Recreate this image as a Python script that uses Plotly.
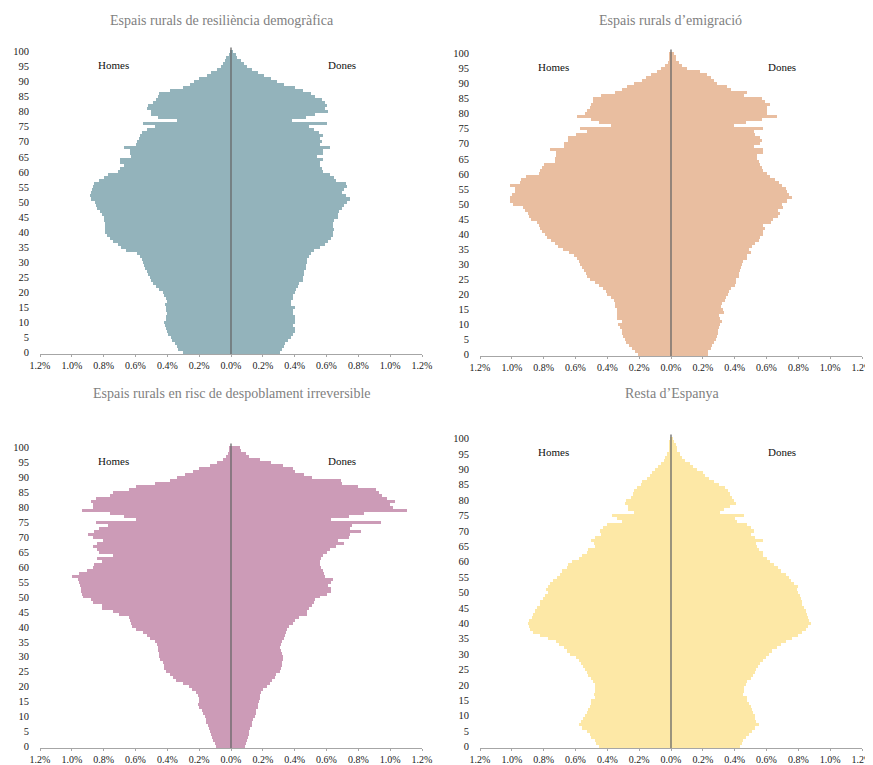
import plotly.graph_objects as go

ages = list(range(0, 101))
y_ticks = list(range(0, 101, 5))
x_tickvals = [-1.2, -1.0, -0.8, -0.6, -0.4, -0.2, 0.0, 0.2, 0.4, 0.6, 0.8, 1.0, 1.2]
x_ticktext = ["1.2%", "1.0%", "0.8%", "0.6%", "0.4%", "0.2%", "0.0%", "0.2%", "0.4%", "0.6%", "0.8%", "1.0%", "1.2%"]

titles = ["Espais rurals de resiliència demogràfica", "Espais rurals d’emigració",
          "Espais rurals en risc de despoblament irreversible", "Resta d’Espanya"]
colors = ["#93B3BB", "#E9BEA0", "#CC9BB7", "#FDE8A6"]

# % of population by single age (0..100)
homes_resiliencia = [0.30, 0.33, 0.34, 0.355, 0.37, 0.38, 0.395, 0.405, 0.41, 0.415, 0.42, 0.41, 0.41, 0.405, 0.41, 0.41, 0.415, 0.40, 0.41, 0.42,
                     0.43, 0.45, 0.47, 0.49, 0.50, 0.51, 0.52, 0.53, 0.54, 0.545, 0.55, 0.56, 0.57, 0.59, 0.66, 0.69, 0.71, 0.74, 0.76, 0.78,
                     0.79, 0.79, 0.79, 0.79, 0.795, 0.80, 0.81, 0.82, 0.845, 0.85, 0.855, 0.88, 0.885, 0.88, 0.875, 0.865, 0.86, 0.83, 0.80, 0.77,
                     0.71, 0.70, 0.67, 0.695, 0.70, 0.63, 0.635, 0.635, 0.67, 0.60, 0.59, 0.58, 0.57, 0.56, 0.53, 0.48, 0.55, 0.34, 0.46, 0.50,
                     0.50, 0.525, 0.52, 0.49, 0.47, 0.46, 0.45, 0.385, 0.30, 0.26, 0.23, 0.20, 0.15, 0.125, 0.09, 0.065, 0.05, 0.04, 0.03, 0.015,
                     0.005]
dones_resiliencia = [0.31, 0.32, 0.33, 0.34, 0.36, 0.38, 0.39, 0.40, 0.40, 0.39, 0.40, 0.40, 0.40, 0.39, 0.39, 0.40, 0.38, 0.375, 0.39, 0.39,
                     0.40, 0.41, 0.42, 0.43, 0.45, 0.45, 0.46, 0.46, 0.47, 0.47, 0.48, 0.48, 0.49, 0.50, 0.52, 0.56, 0.59, 0.61, 0.63, 0.64,
                     0.64, 0.65, 0.64, 0.64, 0.65, 0.67, 0.67, 0.68, 0.70, 0.71, 0.73, 0.75, 0.72, 0.70, 0.71, 0.73, 0.72, 0.66, 0.65, 0.62,
                     0.58, 0.57, 0.56, 0.56, 0.58, 0.54, 0.58, 0.58, 0.62, 0.56, 0.57, 0.56, 0.58, 0.55, 0.52, 0.49, 0.60, 0.385, 0.47, 0.53,
                     0.61, 0.59, 0.60, 0.59, 0.57, 0.53, 0.50, 0.45, 0.40, 0.33, 0.29, 0.25, 0.21, 0.17, 0.13, 0.10, 0.08, 0.06, 0.04, 0.03,
                     0.01]

homes_emigracio = [0.21, 0.225, 0.245, 0.265, 0.28, 0.29, 0.30, 0.305, 0.31, 0.32, 0.33, 0.305, 0.34, 0.34, 0.34, 0.34, 0.35, 0.35, 0.36, 0.38,
                   0.40, 0.41, 0.43, 0.45, 0.48, 0.51, 0.525, 0.535, 0.545, 0.56, 0.57, 0.58, 0.59, 0.61, 0.64, 0.68, 0.71, 0.73, 0.755, 0.78,
                   0.79, 0.81, 0.82, 0.83, 0.84, 0.88, 0.895, 0.90, 0.92, 0.93, 0.99, 1.01, 1.01, 1.00, 0.98, 0.98, 1.01, 0.95, 0.94, 0.91,
                   0.83, 0.82, 0.81, 0.80, 0.73, 0.73, 0.72, 0.72, 0.76, 0.67, 0.67, 0.65, 0.645, 0.60, 0.53, 0.57, 0.375, 0.45, 0.50, 0.59,
                   0.54, 0.53, 0.51, 0.50, 0.49, 0.49, 0.44, 0.355, 0.31, 0.275, 0.23, 0.18, 0.155, 0.125, 0.09, 0.065, 0.04, 0.02, 0.015, 0.01,
                   0.01]
dones_emigracio = [0.23, 0.23, 0.25, 0.26, 0.27, 0.285, 0.29, 0.295, 0.295, 0.30, 0.31, 0.32, 0.31, 0.30, 0.33, 0.325, 0.315, 0.32, 0.34, 0.345,
                   0.355, 0.365, 0.38, 0.40, 0.41, 0.41, 0.43, 0.43, 0.435, 0.44, 0.445, 0.45, 0.475, 0.48, 0.50, 0.49, 0.51, 0.53, 0.55, 0.56,
                   0.58, 0.58, 0.59, 0.58, 0.63, 0.64, 0.675, 0.685, 0.675, 0.705, 0.695, 0.73, 0.76, 0.74, 0.73, 0.72, 0.70, 0.68, 0.655, 0.62,
                   0.60, 0.58, 0.57, 0.56, 0.55, 0.54, 0.54, 0.58, 0.58, 0.52, 0.56, 0.57, 0.56, 0.53, 0.52, 0.58, 0.395, 0.47, 0.57, 0.665,
                   0.60, 0.60, 0.60, 0.62, 0.59, 0.57, 0.46, 0.48, 0.38, 0.35, 0.29, 0.27, 0.25, 0.225, 0.18, 0.10, 0.07, 0.05, 0.03, 0.03,
                   0.02]

homes_risc = [0.095, 0.10, 0.11, 0.12, 0.125, 0.135, 0.14, 0.145, 0.155, 0.16, 0.165, 0.175, 0.185, 0.20, 0.21, 0.20, 0.20, 0.21, 0.22, 0.245,
              0.265, 0.30, 0.345, 0.365, 0.385, 0.41, 0.42, 0.42, 0.43, 0.445, 0.45, 0.45, 0.46, 0.46, 0.465, 0.475, 0.51, 0.53, 0.55, 0.595,
              0.62, 0.63, 0.635, 0.64, 0.705, 0.74, 0.81, 0.81, 0.87, 0.88, 0.93, 0.935, 0.94, 0.94, 0.95, 0.955, 0.96, 1.00, 0.955, 0.905,
              0.87, 0.86, 0.81, 0.84, 0.74, 0.83, 0.84, 0.87, 0.84, 0.805, 0.865, 0.90, 0.86, 0.83, 0.775, 0.85, 0.60, 0.67, 0.76, 0.935,
              0.87, 0.87, 0.88, 0.85, 0.76, 0.74, 0.64, 0.595, 0.48, 0.385, 0.34, 0.29, 0.24, 0.20, 0.135, 0.09, 0.05, 0.03, 0.02, 0.015,
              0.01]
dones_risc = [0.09, 0.095, 0.10, 0.105, 0.11, 0.115, 0.12, 0.13, 0.135, 0.14, 0.15, 0.155, 0.16, 0.17, 0.17, 0.175, 0.18, 0.185, 0.19, 0.20,
              0.225, 0.245, 0.255, 0.275, 0.285, 0.305, 0.315, 0.32, 0.32, 0.325, 0.325, 0.32, 0.315, 0.31, 0.315, 0.32, 0.33, 0.34, 0.345, 0.35,
              0.365, 0.39, 0.40, 0.43, 0.475, 0.475, 0.49, 0.51, 0.52, 0.53, 0.56, 0.60, 0.63, 0.63, 0.61, 0.63, 0.64, 0.59, 0.585, 0.575,
              0.565, 0.56, 0.56, 0.565, 0.575, 0.60, 0.62, 0.66, 0.71, 0.67, 0.74, 0.75, 0.815, 0.75, 0.76, 0.94, 0.63, 0.74, 0.835, 1.105,
              1.02, 1.00, 1.03, 0.98, 0.95, 0.93, 0.91, 0.80, 0.70, 0.69, 0.51, 0.46, 0.40, 0.39, 0.325, 0.25, 0.18, 0.115, 0.095, 0.065,
              0.055]

homes_resta = [0.45, 0.47, 0.475, 0.50, 0.51, 0.53, 0.56, 0.575, 0.565, 0.555, 0.54, 0.53, 0.52, 0.51, 0.505, 0.50, 0.475, 0.485, 0.48, 0.48,
               0.48, 0.49, 0.505, 0.52, 0.53, 0.54, 0.55, 0.565, 0.58, 0.595, 0.635, 0.655, 0.67, 0.705, 0.72, 0.77, 0.82, 0.865, 0.885, 0.895,
               0.90, 0.89, 0.875, 0.865, 0.855, 0.845, 0.825, 0.82, 0.805, 0.79, 0.775, 0.785, 0.775, 0.76, 0.74, 0.715, 0.70, 0.685, 0.655, 0.645,
               0.62, 0.58, 0.56, 0.53, 0.52, 0.48, 0.485, 0.50, 0.475, 0.44, 0.445, 0.43, 0.40, 0.31, 0.34, 0.37, 0.235, 0.27, 0.27, 0.29,
               0.28, 0.25, 0.24, 0.235, 0.215, 0.19, 0.18, 0.15, 0.13, 0.12, 0.10, 0.08, 0.065, 0.045, 0.035, 0.025, 0.015, 0.015, 0.01, 0.01,
               0.005]
dones_resta = [0.435, 0.445, 0.455, 0.47, 0.49, 0.51, 0.53, 0.55, 0.535, 0.53, 0.525, 0.515, 0.51, 0.50, 0.49, 0.48, 0.475, 0.455, 0.46, 0.46,
               0.47, 0.48, 0.50, 0.515, 0.525, 0.535, 0.545, 0.56, 0.58, 0.595, 0.615, 0.635, 0.665, 0.69, 0.72, 0.76, 0.80, 0.825, 0.845, 0.86,
               0.88, 0.87, 0.86, 0.855, 0.845, 0.835, 0.825, 0.82, 0.815, 0.81, 0.80, 0.79, 0.80, 0.775, 0.755, 0.74, 0.72, 0.69, 0.67, 0.645,
               0.625, 0.60, 0.58, 0.58, 0.55, 0.54, 0.535, 0.58, 0.53, 0.50, 0.52, 0.50, 0.48, 0.415, 0.405, 0.46, 0.305, 0.33, 0.37, 0.41,
               0.395, 0.385, 0.37, 0.355, 0.34, 0.30, 0.27, 0.24, 0.215, 0.20, 0.165, 0.14, 0.12, 0.09, 0.07, 0.055, 0.04, 0.035, 0.03, 0.02,
               0.01]

men_series = [homes_resiliencia, homes_emigracio, homes_risc, homes_resta]
women_series = [dones_resiliencia, dones_emigracio, dones_risc, dones_resta]

# The page places the figure 8px from the top-left corner (default body margin),
# so the figure is laid out in screen pixels minus that offset.
OFF = 8
W, H = 873 - OFF, 765 - OFF


def px(v):
    return v - OFF


x_px = [(40, 422), (480, 862), (40, 422), (480, 862)]
y_px = [(47, 354), (49, 356), (443, 748), (434, 748)]
x_domains = [(px(a) / W, px(b) / W) for a, b in x_px]
y_domains = [((H - px(b)) / H, (H - px(t)) / H) for t, b in y_px]
title_pos = [(222, 20), (670, 20), (232, 393), (672, 393)]

FONT = "Liberation Serif, DejaVu Serif, serif"

fig = go.Figure()
layout = dict(
    width=W, height=H,
    margin=dict(l=0, r=0, t=0, b=0, autoexpand=False),
    paper_bgcolor="white", plot_bgcolor="white",
    barmode="relative", bargap=0,
    showlegend=False,
    font=dict(family=FONT, size=10, color="#222222"),
)
annotations = []
shapes = []

for i in range(4):
    n = "" if i == 0 else str(i + 1)
    xa, ya = "x" + n, "y" + n
    fig.add_trace(go.Bar(y=ages, x=[-v for v in men_series[i]], orientation="h", width=1,
                         marker=dict(color=colors[i], line=dict(width=0)),
                         xaxis=xa, yaxis=ya, hoverinfo="skip"))
    fig.add_trace(go.Bar(y=ages, x=women_series[i], orientation="h", width=1,
                         marker=dict(color=colors[i], line=dict(width=0)),
                         xaxis=xa, yaxis=ya, hoverinfo="skip"))
    layout["xaxis" + n] = dict(
        domain=list(x_domains[i]), anchor=ya, range=[-1.2, 1.2],
        tickvals=x_tickvals, ticktext=x_ticktext,
        showgrid=False, zeroline=False,
        showline=True, linecolor="#A6A6A6", linewidth=1,
        ticks="outside", ticklen=2, tickcolor="#A6A6A6",
        tickfont=dict(family=FONT, size=10, color="#222222"),
        ticklabeloverflow="allow",
        automargin=False, fixedrange=True,
    )
    layout["yaxis" + n] = dict(
        domain=list(y_domains[i]), anchor=xa, range=[-0.5, 101.5],
        tickvals=y_ticks, ticktext=[str(t) for t in y_ticks],
        showgrid=False, zeroline=False, showline=False, ticks="",
        ticklabelstandoff=10,
        tickfont=dict(family=FONT, size=10.5, color="#222222"),
        automargin=False, fixedrange=True,
    )
    shapes.append(dict(type="line", xref=xa, yref=ya, x0=0, x1=0, y0=-0.5, y1=101.3,
                       line=dict(color="#666666", width=1.3), layer="above"))
    tx, ty = title_pos[i]
    annotations.append(dict(text=titles[i], xref="paper", yref="paper",
                            x=px(tx) / W, y=(H - px(ty)) / H, xanchor="center", yanchor="middle",
                            showarrow=False, font=dict(family=FONT, size=14, color="#7F7F7F")))
    annotations.append(dict(text="Homes", xref=xa, yref=ya, x=-0.74, y=95.5,
                            showarrow=False, font=dict(family=FONT, size=11, color="#111111")))
    annotations.append(dict(text="Dones", xref=xa, yref=ya, x=0.70, y=95.5,
                            showarrow=False, font=dict(family=FONT, size=11, color="#111111")))

layout["annotations"] = annotations
layout["shapes"] = shapes
fig.update_layout(**layout)
fig.write_html("out.html")
